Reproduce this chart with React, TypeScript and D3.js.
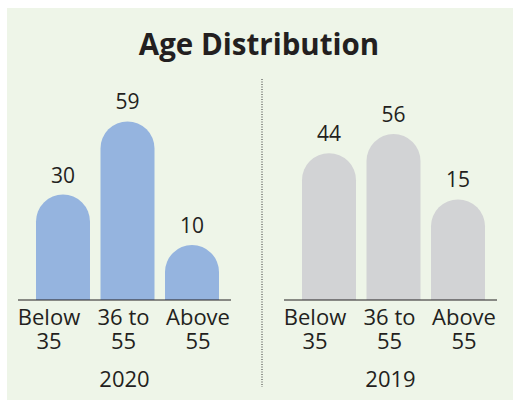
import * as d3 from "d3";

const categories = ["Below 35", "36 to 55", "Above 55"];
const labelLines = [["Below", "35"], ["36 to", "55"], ["Above", "55"]];
const years = ["2020", "2019"];
const values2020 = [30, 59, 10];
const values2019 = [44, 56, 15];

const W = 513;
const H = 401;
const FONT = "'Open Sans', 'Noto Sans', sans-serif";
const INK = "#231f20";
const baseY = 300;
const panelW = 213;

// each panel has its own vertical scale (bars start with a rounded cap)
const panels = [
  {
    year: years[0],
    values: values2020,
    x0: 18,
    color: "#95b4df",
    y: d3.scaleLinear().domain([-11.8, 59]).range([baseY, 121.4]),
  },
  {
    year: years[1],
    values: values2019,
    x0: 284,
    color: "#d2d3d5",
    y: d3.scaleLinear().domain([-48.1, 56]).range([baseY, 134]),
  },
];

const barX = d3
  .scaleBand<string>()
  .domain(categories)
  .range([18, 201])
  .paddingInner(0.163);

const labelX = d3.scalePoint<string>().domain(categories).range([31, 180]);

function barPath(x: number, w: number, top: number, base: number) {
  const r = w / 2;
  return `M${x},${base}V${top + r}A${r},${r} 0 0 1 ${x + w},${top + r}V${base}Z`;
}

export default function App() {
  return (
    <svg
      width={W}
      height={H}
      style={{ position: "absolute", left: 0, top: 0 }}
      fontFamily={FONT}
    >
      <rect x={7} y={8} width={W - 7} height={392} fill="#eef5e8" />
      <text
        x={259}
        y={55}
        textAnchor="middle"
        fontSize={29.5}
        fontWeight="bold"
        fill={INK}
      >
        Age Distribution
      </text>
      <line
        x1={262}
        x2={262}
        y1={79}
        y2={387}
        stroke="#333"
        strokeWidth={1}
        strokeDasharray="1,1.5"
      />
      {panels.map((p) => (
        <g key={p.year} transform={`translate(${p.x0},0)`}>
          {categories.map((c, i) => {
            const x = barX(c)!;
            const w = barX.bandwidth();
            const top = p.y(p.values[i]);
            return (
              <g key={c}>
                <path d={barPath(x, w, top, baseY)} fill={p.color} />
                <text
                  x={x + w / 2}
                  y={top - 12}
                  textAnchor="middle"
                  fontSize={21}
                  fill={INK}
                >
                  {p.values[i]}
                </text>
                <text textAnchor="middle" fontSize={22} fill={INK}>
                  {labelLines[i].map((l, j) => (
                    <tspan key={j} x={labelX(c)} y={325 + j * 24}>
                      {l}
                    </tspan>
                  ))}
                </text>
              </g>
            );
          })}
          <line x1={0} x2={panelW} y1={baseY} y2={baseY} stroke={INK} strokeWidth={1} />
          <text
            x={panelW / 2}
            y={387}
            textAnchor="middle"
            fontSize={22}
            fill={INK}
          >
            {p.year}
          </text>
        </g>
      ))}
    </svg>
  );
}
